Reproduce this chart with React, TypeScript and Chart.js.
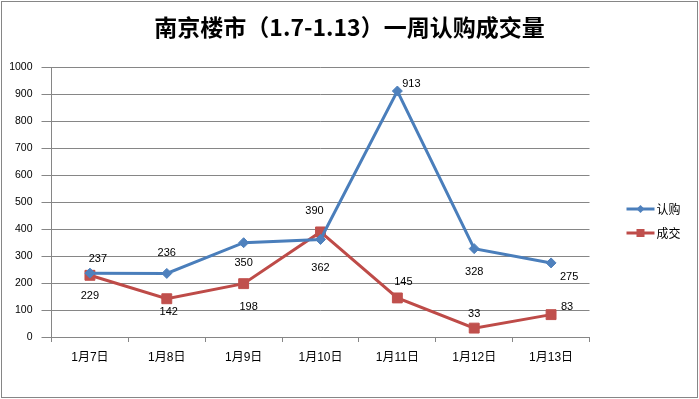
import React, { useEffect, useRef } from "react";
import { Chart, registerables } from "chart.js";

Chart.register(...registerables);

const TITLE = "南京楼市（1.7-1.13）一周认购成交量";
const categories = ["1月7日", "1月8日", "1月9日", "1月10日", "1月11日", "1月12日", "1月13日"];
const seriesNames = ["认购", "成交"];
const subscription = [237, 236, 350, 362, 913, 328, 275];
const deals = [229, 142, 198, 390, 145, 33, 83];
const yMin = 0;
const yMax = 1000;
const yStep = 100;

// label placement (styling, px offsets relative to the point)
const LABEL_OFFSETS: number[][][] = [
  [[8, -14], [0, -20], [0, 20], [0, 28], [14, -7], [0, 23], [18, 14]],
  [[0, 21], [2, 13], [5, 23], [-6, -21], [6, -16], [0, -14], [16, -8]],
];

const BLUE = "#4a7ebb";
const BLUE_M = "#4f81bd";
const RED = "#be4b48";
const RED_M = "#c0504d";
const GRID = "#868686";
const NUM_FONT = "'Liberation Sans', 'Noto Sans CJK SC', sans-serif";
const CJK_FONT = "'Noto Sans CJK SC', 'Liberation Sans', sans-serif";

const framePlugin = {
  id: "frame",
  beforeDraw(chart: any) {
    const ctx = chart.ctx;
    ctx.save();
    ctx.fillStyle = "#fff";
    ctx.fillRect(0, 0, chart.width, chart.height);
    ctx.restore();
  },
  afterDraw(chart: any) {
    const ctx = chart.ctx;
    ctx.save();
    ctx.strokeStyle = GRID;
    ctx.lineWidth = 1;
    ctx.strokeRect(1.5, 1.5, chart.width - 3, chart.height - 3);
    ctx.restore();
  },
};

const labelPlugin = {
  id: "pointLabels",
  afterDatasetsDraw(chart: any) {
    const ctx = chart.ctx;
    ctx.save();
    ctx.font = `11px ${NUM_FONT}`;
    ctx.fillStyle = "#000";
    ctx.textAlign = "center";
    ctx.textBaseline = "middle";
    chart.data.datasets.forEach((ds: any, di: number) => {
      const meta = chart.getDatasetMeta(di);
      meta.data.forEach((pt: any, i: number) => {
        const off = LABEL_OFFSETS[di][i];
        ctx.fillText(String(ds.data[i]), pt.x + off[0], pt.y + off[1]);
      });
    });
    ctx.restore();
  },
};

const legendPlugin = {
  id: "sideLegend",
  afterDraw(chart: any) {
    const ctx = chart.ctx;
    const x0 = chart.chartArea.right + 37;
    const ys = [209, 233];
    ctx.save();
    chart.data.datasets.forEach((ds: any, di: number) => {
      const y = ys[di];
      ctx.strokeStyle = ds.borderColor;
      ctx.lineWidth = 3;
      ctx.beginPath();
      ctx.moveTo(x0, y);
      ctx.lineTo(x0 + 28, y);
      ctx.stroke();
      ctx.fillStyle = ds.pointBackgroundColor;
      const cx = x0 + 14;
      if (di === 0) {
        ctx.beginPath();
        ctx.moveTo(cx, y - 4);
        ctx.lineTo(cx + 4, y);
        ctx.lineTo(cx, y + 4);
        ctx.lineTo(cx - 4, y);
        ctx.closePath();
        ctx.fill();
      } else {
        ctx.fillRect(cx - 4, y - 4, 8, 8);
      }
      ctx.fillStyle = "#000";
      ctx.font = `12px ${CJK_FONT}`;
      ctx.textAlign = "left";
      ctx.textBaseline = "middle";
      ctx.fillText(ds.label, x0 + 30, y);
    });
    ctx.restore();
  },
};

export default function App() {
  const ref = useRef<HTMLCanvasElement | null>(null);

  useEffect(() => {
    if (!ref.current) return;
    const chart = new Chart(ref.current, {
      type: "line",
      data: {
        labels: categories,
        datasets: [
          {
            label: seriesNames[0],
            data: subscription,
            borderColor: BLUE,
            backgroundColor: BLUE_M,
            pointBackgroundColor: BLUE_M,
            pointBorderColor: BLUE_M,
            borderWidth: 3,
            pointStyle: "rectRot",
            pointRadius: 5,
            pointBorderWidth: 1,
            tension: 0,
          },
          {
            label: seriesNames[1],
            data: deals,
            borderColor: RED,
            backgroundColor: RED_M,
            pointBackgroundColor: RED_M,
            pointBorderColor: RED_M,
            borderWidth: 3,
            pointStyle: "rect",
            pointRadius: 7,
            pointBorderWidth: 1,
            tension: 0,
          },
        ],
      },
      options: {
        responsive: false,
        animation: false,
        layout: { padding: 0 },
        plugins: {
          legend: { display: false },
          tooltip: { enabled: false },
          title: {
            display: true,
            text: TITLE,
            color: "#000",
            font: { family: CJK_FONT, size: 23, weight: "bold" },
            padding: { top: 13, bottom: 27 },
          },
        },
        scales: {
          x: {
            type: "category",
            offset: true,
            grid: {
              offset: true,
              drawOnChartArea: false,
              drawTicks: true,
              tickLength: 5,
              color: GRID,
            },
            border: { display: true, color: GRID },
            ticks: {
              color: "#000",
              font: { family: NUM_FONT, size: 12 },
              padding: 8,
              maxRotation: 0,
              autoSkip: false,
            },
            afterFit(s: any) {
              s.height = 62;
            },
          },
          y: {
            type: "linear",
            min: yMin,
            max: yMax,
            grid: { color: GRID, drawTicks: true, tickLength: 10 },
            border: { display: true, color: GRID },
            ticks: {
              stepSize: yStep,
              color: "#000",
              font: { family: NUM_FONT, size: 10.5 },
              padding: 9,
              callback: (v: any) => String(v),
            },
            afterFit(s: any) {
              s.width = 51.5;
            },
          },
          spacer: {
            type: "linear",
            position: "right",
            display: true,
            grid: { display: false },
            border: { display: false },
            ticks: { display: false },
            afterFit(s: any) {
              s.width = 109.5;
            },
          },
        },
      },
      plugins: [framePlugin, labelPlugin, legendPlugin],
    });
    return () => chart.destroy();
  }, []);

  return (
    <div style={{ position: "fixed", left: 0, top: 0, width: 699, height: 399 }}>
      <canvas ref={ref} width={699} height={399} style={{ width: 699, height: 399 }} />
    </div>
  );
}
